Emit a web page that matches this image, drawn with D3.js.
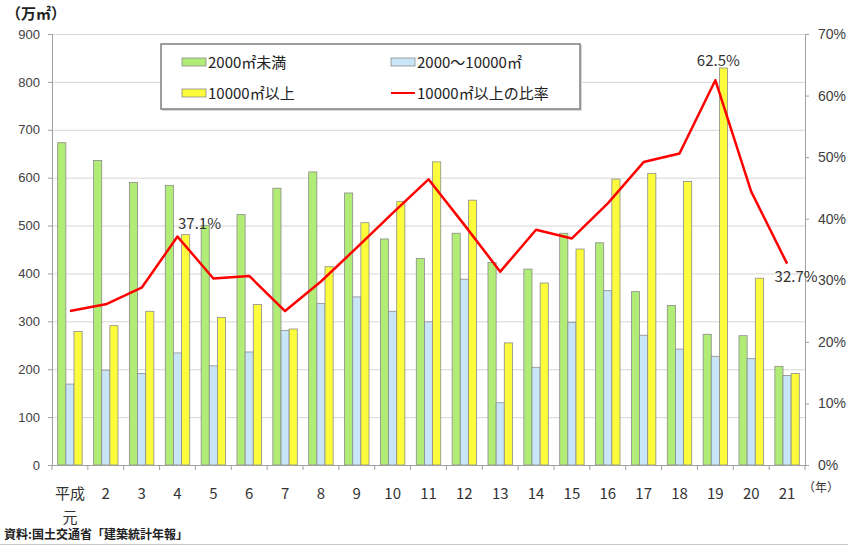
<!DOCTYPE html>
<html>
<head>
<meta charset="utf-8">
<script src="https://cdn.jsdelivr.net/npm/d3@7"></script>
<style>
  body { margin: 0; background: #fff; }
  svg { display: block; font-family: "Noto Sans CJK JP", "Noto Sans", sans-serif; }
</style>
</head>
<body>
<div id="chart"></div>
<script>
// 年 (平成元〜21)
var years = ["平成元", "2", "3", "4", "5", "6", "7", "8", "9", "10", "11",
             "12", "13", "14", "15", "16", "17", "18", "19", "20", "21"];
// 2000㎡未満 (万㎡)
var small = [673, 636, 590, 584, 500, 523, 578, 612, 568, 472, 431,
             484, 423, 409, 484, 464, 362, 333, 273, 270, 206];
// 2000〜10000㎡
var middle = [169, 198, 191, 234, 207, 236, 281, 337, 351, 321, 299,
              388, 130, 204, 298, 364, 271, 242, 227, 222, 187];
// 10000㎡以上
var large = [279, 291, 321, 481, 308, 335, 284, 414, 506, 550, 633,
             553, 255, 380, 451, 597, 609, 592, 829, 390, 191];
// 10000㎡以上の比率 (%)
var ratio = [25.0, 26.1, 28.8, 37.1, 30.3, 30.7, 25.0, 29.8, 35.3, 40.9, 46.4,
             39.0, 31.4, 38.2, 36.8, 42.5, 49.2, 50.6, 62.5, 44.4, 32.7];
var leftTicks = [0, 100, 200, 300, 400, 500, 600, 700, 800, 900];
var rightTicks = [0, 10, 20, 30, 40, 50, 60, 70];
var labelled = [3, 18, 20];   // 比率のデータラベルを付ける年

var W = 848, H = 546;
var plotLeft = 52, plotRight = 805, plotTop = 34, plotBottom = 465;

var svg = d3.select("#chart").append("svg")
    .attr("width", W)
    .attr("height", H);

var x = d3.scaleBand().domain(years).range([plotLeft, plotRight]).padding(0);
var keys = ["small", "middle", "large"];
var x1 = d3.scaleBand().domain(keys).range([0, x.bandwidth()])
    .paddingInner(0).paddingOuter(0.7);
var y = d3.scaleLinear().domain([0, 900]).range([plotBottom, plotTop]);
var y2 = d3.scaleLinear().domain([0, 70]).range([plotBottom, plotTop]);

var colors = { small: "#b0ec76", middle: "#c8e6f8", large: "#fcfc3c" };
var values = { small: small, middle: middle, large: large };

// グリッド線
svg.append("g")
    .selectAll("line")
    .data(leftTicks.slice(1))
    .enter()
    .append("line")
    .attr("x1", plotLeft)
    .attr("x2", plotRight)
    .attr("y1", function(d) { return y(d) + 0.5; })
    .attr("y2", function(d) { return y(d) + 0.5; })
    .attr("stroke", "#d6d6d6")
    .attr("stroke-width", 1);

// 棒
keys.forEach(function(k) {
    svg.append("g")
        .selectAll("rect")
        .data(values[k])
        .enter()
        .append("rect")
        .attr("x", function(d, i) { return x(years[i]) + x1(k); })
        .attr("y", function(d) { return y(d); })
        .attr("width", x1.bandwidth())
        .attr("height", function(d) { return y(0) - y(d); })
        .attr("fill", colors[k])
        .attr("stroke", "#8c8c8c")
        .attr("stroke-width", 0.8);
});

// 左軸
var leftAxis = svg.append("g")
    .attr("transform", "translate(" + plotLeft + ",0)")
    .call(d3.axisLeft(y).tickValues(leftTicks).tickSize(4).tickPadding(8));
// 右軸
var rightAxis = svg.append("g")
    .attr("transform", "translate(" + plotRight + ",0)")
    .call(d3.axisRight(y2).tickValues(rightTicks).tickSize(4).tickPadding(9)
        .tickFormat(function(d) { return d + "%"; }));
// 下軸 (区切りの目盛り)
var bottomAxis = svg.append("g")
    .attr("transform", "translate(0," + plotBottom + ")")
    .call(d3.axisBottom(x).tickSize(0).tickFormat(""));
bottomAxis.selectAll(".sep")
    .data(d3.range(years.length + 1))
    .enter()
    .append("line")
    .attr("x1", function(i) { return plotLeft + i * x.step(); })
    .attr("x2", function(i) { return plotLeft + i * x.step(); })
    .attr("y1", 0)
    .attr("y2", 5)
    .attr("stroke", "#a0a0a0");

[leftAxis, rightAxis, bottomAxis].forEach(function(a) {
    a.select(".domain").attr("stroke", "#a0a0a0");
    a.selectAll(".tick line").attr("stroke", "#a0a0a0");
    a.selectAll("text").attr("fill", "#404040").style("font-size", "13px");
});
rightAxis.selectAll("text").style("font-size", "14px");

// x ラベル
svg.append("g")
    .selectAll("text")
    .data(years)
    .enter()
    .append("text")
    .attr("x", function(d) { return x(d) + x.bandwidth() / 2; })
    .attr("y", 499)
    .attr("text-anchor", "middle")
    .attr("fill", "#333")
    .style("font-size", "15px")
    .text(function(d) { return d === "平成元" ? "平成" : d; });
svg.append("text")
    .attr("x", x(years[0]) + x.bandwidth() / 2)
    .attr("y", 523)
    .attr("text-anchor", "middle")
    .attr("fill", "#333")
    .style("font-size", "15px")
    .text("元");

// 比率の折れ線
var line = d3.line()
    .x(function(d, i) { return x(years[i]) + x.bandwidth() / 2; })
    .y(function(d) { return y2(d); });
svg.append("path")
    .datum(ratio)
    .attr("d", line)
    .attr("fill", "none")
    .attr("stroke", "#ff0000")
    .attr("stroke-width", 2.5)
    .attr("stroke-linejoin", "round");

// データラベル
var labelOffset = { 3: [22, -8], 18: [3, -14], 20: [9, 18] };
svg.append("g")
    .selectAll("text")
    .data(labelled)
    .enter()
    .append("text")
    .attr("x", function(i) { return x(years[i]) + x.bandwidth() / 2 + labelOffset[i][0]; })
    .attr("y", function(i) { return y2(ratio[i]) + labelOffset[i][1]; })
    .attr("text-anchor", "middle")
    .attr("fill", "#333")
    .style("font-size", "15px")
    .text(function(i) { return ratio[i].toFixed(1) + "%"; });

// 凡例
var legendItems = [
    { name: "2000㎡未満", type: "rect", color: colors.small },
    { name: "2000〜10000㎡", type: "rect", color: colors.middle },
    { name: "10000㎡以上", type: "rect", color: colors.large },
    { name: "10000㎡以上の比率", type: "line", color: "#ff0000" }
];
var legend = svg.append("g").attr("transform", "translate(161,44)");
legend.append("rect")
    .attr("x", 1).attr("y", 1)
    .attr("width", 420).attr("height", 66)
    .attr("fill", "#d8d8d8");
legend.append("rect")
    .attr("width", 419).attr("height", 65)
    .attr("fill", "#fff")
    .attr("stroke", "#7f7f7f")
    .attr("stroke-width", 1.5);
var li = legend.selectAll(".item")
    .data(legendItems)
    .enter()
    .append("g")
    .attr("transform", function(d, i) {
        return "translate(" + (i % 2 === 0 ? 21 : 230) + "," + (i < 2 ? 18 : 49) + ")";
    });
li.filter(function(d) { return d.type === "rect"; })
    .append("rect")
    .attr("x", 0).attr("y", -4)
    .attr("width", 24).attr("height", 8)
    .attr("fill", function(d) { return d.color; })
    .attr("stroke", "#8c8c8c")
    .attr("stroke-width", 0.8);
li.filter(function(d) { return d.type === "line"; })
    .append("line")
    .attr("x1", 0).attr("x2", 24)
    .attr("y1", 0).attr("y2", 0)
    .attr("stroke", function(d) { return d.color; })
    .attr("stroke-width", 2);
li.append("text")
    .attr("x", 26)
    .attr("y", 5.5)
    .attr("fill", "#222")
    .style("font-size", "15px")
    .text(function(d) { return d.name; });

// 単位など
svg.append("text")
    .attr("x", 6).attr("y", 19)
    .attr("fill", "#222")
    .style("font-size", "15px")
    .style("font-weight", "bold")
    .text("（万㎡）");
svg.append("text")
    .attr("x", 803).attr("y", 492)
    .attr("fill", "#333")
    .style("font-size", "12px")
    .text("（年）");
svg.append("text")
    .attr("x", 4).attr("y", 539)
    .attr("fill", "#222")
    .style("font-size", "12px")
    .style("font-weight", "bold")
    .text("資料:国土交通省「建築統計年報」");
svg.append("line")
    .attr("x1", 0).attr("x2", W)
    .attr("y1", 544.5).attr("y2", 544.5)
    .attr("stroke", "#c8c8c8");
</script>
</body>
</html>
